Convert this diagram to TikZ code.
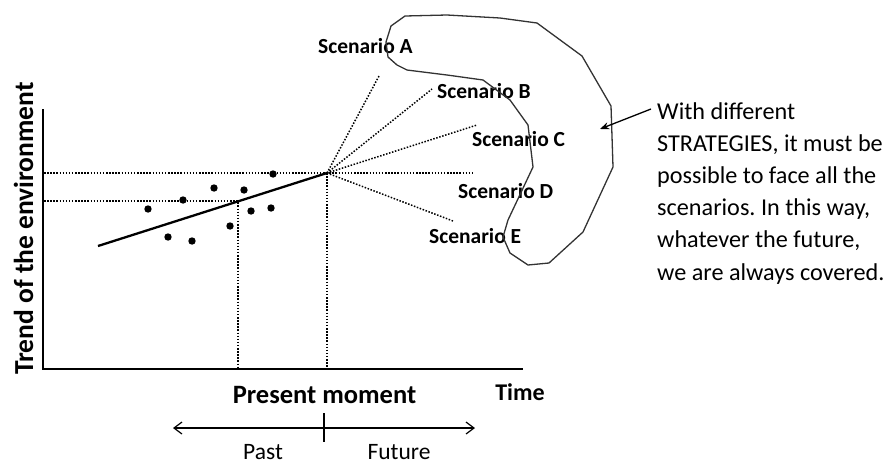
\documentclass[tikz,border=0pt]{standalone}
\usepackage{fontspec}
\setmainfont{Carlito}
\usetikzlibrary{arrows.meta}
\frenchspacing
\begin{document}
\begin{tikzpicture}[x=1pt,y=-1pt,
  axisline/.style={line width=1.9pt},
  trendline/.style={line width=2.3pt},
  guide/.style={line width=1.5pt, dash pattern=on 1.5pt off 1.6pt},
  datapoint/.style={fill=black},
  scen/.style={inner sep=0pt, anchor=base west, font=\fontsize{21.5}{24}\selectfont\bfseries},
  plain/.style={inner sep=0pt, font=\fontsize{23.5}{28}\selectfont},
  blob/.style={draw=black!80, line width=1.3pt, line join=round},
  timeline/.style={line width=1.2pt}]
\useasboundingbox (0,0) rectangle (890,464);

% axes
\coordinate (ytop) at (43,109);
\coordinate (orig) at (43,369);
\coordinate (xend) at (523,369);
\draw[axisline] (ytop) -- (orig) -- (xend);

% the present point and the fan of scenarios
\coordinate (now) at (327,173);
\coordinate (fa) at (379,76);
\coordinate (fb) at (432,89);
\coordinate (fc) at (477,125);
\coordinate (fd) at (472,173);
\coordinate (fe) at (453,221);
\foreach \f in {fa,fb,fc,fe} \draw[guide] (now) -- (\f);

% reference lines
\coordinate (hiL) at (44,173);
\coordinate (loL) at (44,201);
\coordinate (mid) at (238,201);
\coordinate (midB) at (238,368);
\coordinate (nowB) at (327,368);
\draw[guide] (hiL) -- (fd);
\draw[guide] (loL) -- (mid) -- (midB);
\draw[guide] (now) -- (nowB);

% data points and trend
\foreach \p in {(148,209),(168,237),(192,241),(183,200),(214,188),(244,190),
                (230,226),(251,211),(271,208),(273,174)}
  \fill[datapoint] \p circle (3.7pt);
\coordinate (tstart) at (98,246);
\draw[trendline] (tstart) -- (now);

% scenario labels
\node[scen] (sa) at (318,53) {Scenario A};
\node[scen] (sb) at (437,98) {Scenario B};
\node[scen] (sc) at (472,146) {Scenario C};
\node[scen] (sd) at (458,198) {Scenario D};
\node[scen] (se) at (429,243) {Scenario E};

% strategies envelope
\draw[blob] (405,16) -- (447,15) -- (500,18) -- (537,23) -- (582,56) -- (611,106)
  -- (613,167) -- (583,232) -- (549,263) -- (528,265) -- (510,253) -- (503,237)
  -- (508,220) -- (533,167) -- (528,125) -- (510,100) -- (483,80) -- (447,75)
  -- (407,70) -- (397,65) -- (388,57) -- (386,42) -- (391,26) -- cycle;
\coordinate (env) at (600,129);

% note (anchored on the baseline of its last line)
\node[inner sep=0pt, anchor=base west, align=left,
      font=\fontsize{24.2}{32.2}\selectfont] (note) at (657,280)
  {With different\\STRATEGIES, it must be\\possible to face all the\\scenarios. In this way,\\whatever the future,\\we are always covered.};
\coordinate (noteL) at (651,109);
\draw[line width=1.3pt, -{Stealth[length=9pt,width=7pt]}] (noteL) -- (env);

% axis labels
\node[inner sep=0pt, anchor=base, rotate=90,
      font=\fontsize{27.5}{30}\selectfont\bfseries] (ylab) at (33,228.5)
  {Trend of the environment};
\node[inner sep=0pt, anchor=base, font=\fontsize{24}{28}\selectfont\bfseries]
  (tlab) at (520,400) {Time};
\node[inner sep=0pt, anchor=base, font=\fontsize{26.5}{30}\selectfont\bfseries]
  (pm) at (324.5,403) {Present moment};

% past / future line
\coordinate (pl) at (173,428);
\coordinate (pr) at (475,428);
\coordinate (tk1) at (324,413);
\coordinate (tk2) at (324,442);
\draw[timeline, {Straight Barb[length=8pt,width=12pt]}-{Straight Barb[length=8pt,width=12pt]}] (pl) -- (pr);
\draw[timeline] (tk1) -- (tk2);
\node[plain, anchor=base] (past) at (263,459) {Past};
\node[plain, anchor=base] (fut) at (399,459) {Future};
\end{tikzpicture}
\end{document}
